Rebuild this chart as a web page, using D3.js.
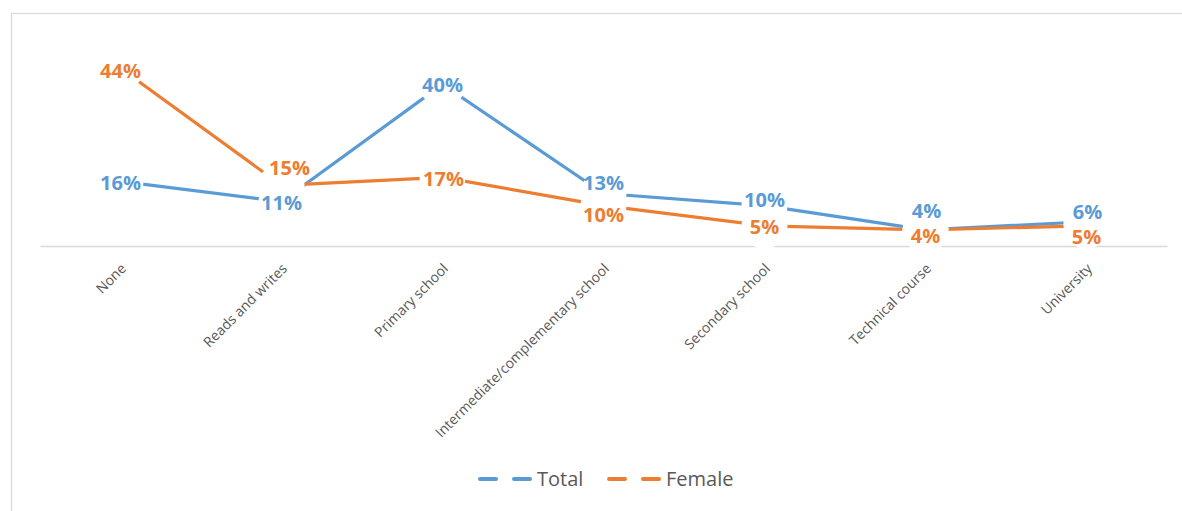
<!DOCTYPE html>
<html>
<head>
<meta charset="utf-8">
<script src="https://cdn.jsdelivr.net/npm/d3@7/dist/d3.min.js"></script>
<style>
  html, body { margin: 0; padding: 0; background: #fff; }
  svg { display: block; }
</style>
</head>
<body>
<svg id="chart" width="1182" height="511"></svg>
<script>
// ---- data ----
const categories = ["None", "Reads and writes", "Primary school", "Intermediate/complementary school",
                    "Secondary school", "Technical course", "University"];
const totalValues  = [0.16, 0.11, 0.40, 0.13, 0.10, 0.04, 0.06];
const femaleValues = [0.44, 0.15, 0.17, 0.10, 0.05, 0.04, 0.05];
const seriesNames  = ["Total", "Female"];

// ---- layout / style ----
const W = 1182, H = 511;
const plot = { left: 40, right: 1167, top: 44, bottom: 246 };
const colors = { Total: "#5B9BD5", Female: "#ED7D31" };
// label nudges (pixels relative to each point), style only
const labelNudge = {
  Total:  [[0, 1], [0, 1], [0, 0], [0, -11], [0, -6], [1, -19], [1, -10]],
  Female: [[0, 3], [8, -18], [1, 1], [0, 9], [0, 1], [0, 6], [0, 11]]
};

const svg = d3.select("#chart");

// outer chart border
svg.append("rect")
  .attr("x", 11.5).attr("y", 13.5)
  .attr("width", W + 20).attr("height", H + 20)
  .attr("fill", "none").attr("stroke", "#d9d9d9").attr("stroke-width", 1.3);

const x = d3.scaleBand().domain(categories).range([plot.left, plot.right]);
const y = d3.scaleLinear().domain([0, 0.5]).range([plot.bottom, plot.top]);
const cx = c => x(c) + x.bandwidth() / 2;

// category axis
const xAxis = d3.axisBottom(x).tickSize(0).tickFormat("");
const ax = svg.append("g").attr("transform", `translate(0,${plot.bottom})`).call(xAxis);
ax.select(".domain").attr("stroke", "#d9d9d9").attr("stroke-width", 1.5);

// rotated category labels
svg.append("g").selectAll("text").data(categories).join("text")
  .attr("transform", d => `translate(${cx(d) + 3},${plot.bottom + 20}) rotate(-45)`)
  .attr("text-anchor", "end")
  .attr("dy", "0.35em")
  .attr("font-family", "'Open Sans', sans-serif")
  .attr("font-size", 14)
  .attr("fill", "#595959")
  .text(d => d);

const series = [
  { name: "Total", values: totalValues },
  { name: "Female", values: femaleValues }
];

const line = d3.line().x((d, i) => cx(categories[i])).y(d => y(d));

// lines
series.forEach(s => {
  svg.append("path")
    .datum(s.values)
    .attr("d", line)
    .attr("fill", "none")
    .attr("stroke", colors[s.name])
    .attr("stroke-width", 3.2)
    .attr("stroke-linejoin", "round");
});

// white markers (create gaps around points)
series.forEach(s => {
  svg.append("g").selectAll("circle").data(s.values).join("circle")
    .attr("cx", (d, i) => cx(categories[i]))
    .attr("cy", d => y(d))
    .attr("r", 23)
    .attr("fill", "#fff");
});

// data labels
const fmt = d3.format(".0%");
series.forEach(s => {
  svg.append("g").selectAll("text").data(s.values).join("text")
    .attr("x", (d, i) => cx(categories[i]) + labelNudge[s.name][i][0])
    .attr("y", (d, i) => y(d) + labelNudge[s.name][i][1])
    .attr("dy", "0.36em")
    .attr("text-anchor", "middle")
    .attr("font-family", "'Open Sans', sans-serif")
    .attr("font-weight", "bold")
    .attr("font-size", 20)
    .attr("fill", colors[s.name])
    .text(d => fmt(d));
});

// legend
const legendY = 479;
const legendItems = [
  { name: "Total", x0: 480 },
  { name: "Female", x0: 609 }
];
const lg = svg.append("g");
legendItems.forEach(it => {
  lg.append("line")
    .attr("x1", it.x0).attr("x2", it.x0 + 50)
    .attr("y1", legendY).attr("y2", legendY)
    .attr("stroke", colors[it.name])
    .attr("stroke-width", 4)
    .attr("stroke-linecap", "round")
    .attr("stroke-dasharray", "16 18");
  lg.append("text")
    .attr("x", it.x0 + 57).attr("y", legendY)
    .attr("dy", "0.36em")
    .attr("font-family", "'Open Sans', sans-serif")
    .attr("font-size", 20)
    .attr("fill", "#595959")
    .text(it.name);
});
</script>
</body>
</html>
